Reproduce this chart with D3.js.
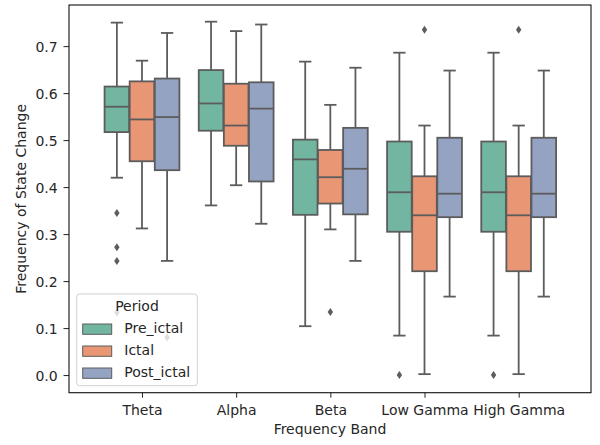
<!DOCTYPE html>
<html>
<head>
<meta charset="utf-8">
<script src="https://cdn.jsdelivr.net/npm/d3@7"></script>
<style>
  html, body { margin: 0; padding: 0; background: #fff; }
  svg { display: block; }
  text { font-family: "DejaVu Sans", sans-serif; fill: #262626; }
</style>
</head>
<body>
<div id="chart"></div>
<script>
// ---- data ----
const bands = ["Theta", "Alpha", "Beta", "Low Gamma", "High Gamma"];
const periods = ["Pre_ictal", "Ictal", "Post_ictal"];
const periodColors = ["#72b6a1", "#e99675", "#95a3c3"];
const yTicks = [0.0, 0.1, 0.2, 0.3, 0.4, 0.5, 0.6, 0.7];

// [whiskerLow, q1, median, q3, whiskerHigh] for each band
const preIctal = [
  [0.420, 0.517, 0.571, 0.614, 0.750],
  [0.361, 0.520, 0.578, 0.649, 0.752],
  [0.104, 0.341, 0.459, 0.501, 0.667],
  [0.084, 0.305, 0.389, 0.497, 0.686],
  [0.084, 0.305, 0.389, 0.497, 0.686]
];
const ictal = [
  [0.312, 0.455, 0.544, 0.625, 0.669],
  [0.404, 0.488, 0.531, 0.620, 0.732],
  [0.310, 0.365, 0.421, 0.479, 0.575],
  [0.002, 0.221, 0.340, 0.423, 0.531],
  [0.002, 0.221, 0.340, 0.423, 0.531]
];
const postIctal = [
  [0.243, 0.436, 0.549, 0.631, 0.728],
  [0.322, 0.412, 0.567, 0.623, 0.746],
  [0.243, 0.342, 0.439, 0.526, 0.654],
  [0.167, 0.336, 0.386, 0.505, 0.648],
  [0.167, 0.336, 0.386, 0.505, 0.648]
];
// outliers per band
const preOutliers = [[0.345, 0.272, 0.243, 0.133], [], [], [0.0], [0.0]];
const ictalOutliers = [[], [], [0.134], [0.735], [0.735]];
const postOutliers = [[0.080], [], [], [], []];

const stats = [preIctal, ictal, postIctal];
const outliers = [preOutliers, ictalOutliers, postOutliers];

// ---- layout ----
const W = 600, H = 445;
const plot = { left: 69, right: 591, top: 5, bottom: 392.7 };
const gray = "#5c5c5c";
const FS = "14px";

const svg = d3.select("#chart").append("svg")
  .attr("width", W).attr("height", H);

const x = d3.scaleLinear().domain([-0.775, 4.768]).range([plot.left, plot.right]);
const y = d3.scaleLinear().domain([-0.0375, 0.7875]).range([plot.bottom, plot.top]);

const groupWidth = 0.8;
const nested = groupWidth / periods.length;
const boxW = nested * 0.98;

const g = svg.append("g");

stats.forEach((arr, pi) => {
  const offset = -groupWidth / 2 + nested * (pi + 0.5);
  arr.forEach((s, bi) => {
    const cx = bi + offset;
    const [lo, q1, med, q3, hi] = s;
    const xl = x(cx - boxW / 2), xr = x(cx + boxW / 2), xc = x(cx);
    const capL = x(cx - boxW / 4), capR = x(cx + boxW / 4);
    const bg = g.append("g");
    bg.append("line").attr("x1", xc).attr("x2", xc).attr("y1", y(q1)).attr("y2", y(lo))
      .attr("stroke", gray).attr("stroke-width", 1.8);
    bg.append("line").attr("x1", xc).attr("x2", xc).attr("y1", y(q3)).attr("y2", y(hi))
      .attr("stroke", gray).attr("stroke-width", 1.8);
    bg.append("line").attr("x1", capL).attr("x2", capR).attr("y1", y(lo)).attr("y2", y(lo))
      .attr("stroke", gray).attr("stroke-width", 1.8);
    bg.append("line").attr("x1", capL).attr("x2", capR).attr("y1", y(hi)).attr("y2", y(hi))
      .attr("stroke", gray).attr("stroke-width", 1.8);
    bg.append("rect").attr("x", xl).attr("y", y(q3))
      .attr("width", xr - xl).attr("height", y(q1) - y(q3))
      .attr("fill", periodColors[pi]).attr("stroke", gray).attr("stroke-width", 1.8);
    bg.append("line").attr("x1", xl).attr("x2", xr).attr("y1", y(med)).attr("y2", y(med))
      .attr("stroke", gray).attr("stroke-width", 1.8);
    outliers[pi][bi].forEach(v => {
      const px = xc, py = y(v);
      bg.append("path")
        .attr("d", `M${px},${py - 4} L${px + 2.7},${py} L${px},${py + 4} L${px - 2.7},${py} Z`)
        .attr("fill", gray);
    });
  });
});

// ---- axes ----
const xAxis = d3.axisBottom(x).tickValues(d3.range(bands.length))
  .tickFormat(i => bands[i]).tickSize(5).tickPadding(7.3);
const yAxis = d3.axisLeft(y).tickValues(yTicks)
  .tickFormat(d3.format(".1f")).tickSize(5.5).tickPadding(5.8);

const gx = svg.append("g").attr("transform", `translate(0,${plot.bottom})`).call(xAxis);
const gy = svg.append("g").attr("transform", `translate(${plot.left},0)`).call(yAxis);
[gx, gy].forEach(a => {
  a.select(".domain").remove();
  a.selectAll(".tick line").attr("stroke", "#222").attr("stroke-width", 1);
  a.selectAll(".tick text").attr("font-size", FS).attr("fill", "#262626")
    .attr("font-family", "DejaVu Sans, sans-serif");
});
gy.selectAll(".tick text").attr("dy", "0.36em");

// spines
svg.append("rect").attr("x", plot.left).attr("y", plot.top)
  .attr("width", plot.right - plot.left).attr("height", plot.bottom - plot.top)
  .attr("fill", "none").attr("stroke", "#111").attr("stroke-width", 1.1);

// axis labels
svg.append("text").attr("x", (plot.left + plot.right) / 2).attr("y", 434)
  .attr("text-anchor", "middle").attr("font-size", FS).text("Frequency Band");
svg.append("text").attr("transform", `translate(26,${(plot.top + plot.bottom) / 2}) rotate(-90)`)
  .attr("text-anchor", "middle").attr("font-size", FS).text("Frequency of State Change");

// ---- legend ----
const lg = svg.append("g");
lg.append("rect").attr("x", 76.7).attr("y", 294).attr("width", 120.6).attr("height", 91.7)
  .attr("rx", 3).attr("fill", "rgba(255,255,255,0.8)").attr("stroke", "#d0d0d0").attr("stroke-width", 1);
lg.append("text").attr("x", 137).attr("y", 311).attr("text-anchor", "middle")
  .attr("font-size", FS).text("Period");
periods.forEach((p, i) => {
  const yy = 324 + i * 22;
  lg.append("rect").attr("x", 82.7).attr("y", yy).attr("width", 29).attr("height", 10.3)
    .attr("fill", periodColors[i]).attr("stroke", gray).attr("stroke-width", 1);
  lg.append("text").attr("x", 124.3).attr("y", yy + 9.4).attr("font-size", FS).text(p);
});
</script>
</body>
</html>
